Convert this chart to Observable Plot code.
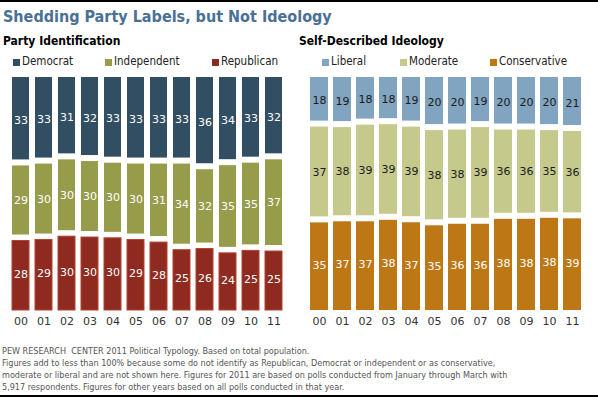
<!DOCTYPE html>
<html>
<head>
<meta charset="utf-8">
<script src="https://cdn.jsdelivr.net/npm/d3@7"></script>
<script src="https://cdn.jsdelivr.net/npm/@observablehq/plot@0.6"></script>
<style>
  html, body { margin: 0; padding: 0; background: #fff; }
  #wrap { position: relative; width: 598px; height: 399px; overflow: hidden; font-family: "DejaVu Sans", sans-serif; }
  .abs { position: absolute; white-space: nowrap; }
  #title { left: 3px; top: 7px; font-size: 16px; font-weight: bold; color: #4a7096; font-family: "DejaVu Sans Condensed", "DejaVu Sans", sans-serif; }
  .sub { top: 34px; font-size: 12px; font-weight: bold; color: #000; font-family: "DejaVu Sans Condensed", "DejaVu Sans", sans-serif; }
  .leg { top: 54px; font-size: 11.5px; color: #222; font-family: "DejaVu Sans Condensed", "DejaVu Sans", sans-serif; }
  .sw { position: absolute; width: 7px; height: 7px; top: 59px; }
  #foot { left: 2px; top: 345px; font-size: 9px; line-height: 12px; color: #555; font-family: "DejaVu Sans Condensed", "DejaVu Sans", sans-serif; }
  .rule { position: absolute; left: 0; width: 598px; height: 2px; background: #000; }
  .chart { position: absolute; top: 70px; }
</style>
</head>
<body>
<div id="wrap">
  <div class="rule" style="top:0"></div>
  <div id="title" class="abs">Shedding Party Labels, but Not Ideology</div>
  <div class="abs sub" style="left:3px">Party Identification</div>
  <div class="abs sub" style="left:299px">Self-Described Ideology</div>
  <div id="legends"></div>
  <div id="c1" class="chart" style="left:0px"></div>
  <div id="c2" class="chart" style="left:298px"></div>
  <div id="foot" class="abs">PEW RESEARCH&nbsp; CENTER 2011 Political Typology. Based on total population.<br>Figures add to less than 100% because some do not identify as Republican, Democrat or independent or as conservative,<br>moderate or liberal and are not shown here. Figures for 2011 are based on polls conducted from January through March with<br>5,917 respondents. Figures for other years based on all polls conducted in that year.</div>
  <div class="rule" style="top:395px"></div>
</div>
<script>
// ---- data ----
const years = ["00","01","02","03","04","05","06","07","08","09","10","11"];

const partySeries = ["Democrat", "Independent", "Republican"];
const democrat    = [33,33,31,32,33,33,33,33,36,34,33,32];
const independent = [29,30,30,30,30,30,31,34,32,35,35,37];
const republican  = [28,29,30,30,30,29,28,25,26,24,25,25];

const ideologySeries = ["Liberal", "Moderate", "Conservative"];
const liberal      = [18,19,18,18,19,20,20,19,20,20,20,21];
const moderate     = [37,38,39,39,39,38,38,39,36,36,35,36];
const conservative = [35,37,37,38,37,35,36,36,38,38,38,39];

const partyColors    = ["#314e62", "#979c4a", "#8e2a1f"];
const ideologyColors = ["#81a5c0", "#c5ca8c", "#bd7815"];

function longForm(series, arrays) {
  const rows = [];
  series.forEach((s, k) => years.forEach((y, i) => rows.push({year: y, series: s, value: arrays[k][i]})));
  return rows;
}
const partyRows = longForm(partySeries, [democrat, independent, republican]);
const ideologyRows = longForm(ideologySeries, [liberal, moderate, conservative]);

// ---- legends ----
const legendSpec = [
  [partySeries, partyColors, [13, 105, 212]],
  [ideologySeries, ideologyColors, [322, 400, 490]]
];
const legEl = document.getElementById("legends");
legendSpec.forEach(([names, cols, xs]) => names.forEach((n, i) => {
  const sw = document.createElement("div");
  sw.className = "sw"; sw.style.left = xs[i] + "px"; sw.style.background = cols[i];
  legEl.appendChild(sw);
  const t = document.createElement("div");
  t.className = "abs leg"; t.style.left = (xs[i] + 9) + "px"; t.textContent = n;
  legEl.appendChild(t);
}));

// ---- charts ----
const GAP = 3;
function panel(rows, series, colors, darkText, padding, width, marginRight, strokeFor) {
  const order = series.slice().reverse(); // bottom first
  const top = series[0], bottom = series[series.length - 1];
  const base = {x: "year", y: "value", z: "series", order, offset: "normalize"};
  const marks = [];
  series.forEach(s => {
    marks.push(Plot.barY(rows, Plot.filter(d => d.series === s, Plot.stackY({
      ...base, fill: "series",
      insetTop: s === top ? 0 : GAP,
      insetBottom: s === bottom ? 0 : GAP,
      ...(strokeFor[s] ? {stroke: strokeFor[s], strokeWidth: 1} : {})
    }))));
  });
  marks.push(Plot.text(rows, Plot.filter(d => darkText.includes(d.series), Plot.stackY({...base, text: "value", fill: "#1a1a1a", fontSize: 11}))));
  marks.push(Plot.text(rows, Plot.filter(d => !darkText.includes(d.series), Plot.stackY({...base, text: "value", fill: "white", fontSize: 11}))));
  return Plot.plot({
    width, height: 262,
    marginTop: 7, marginBottom: 22, marginLeft: 1, marginRight,
    style: {fontFamily: "DejaVu Sans, sans-serif", fontSize: "11px", color: "#333", background: "transparent"},
    x: {domain: years, padding, tickSize: 0, tickPadding: 7, label: null},
    y: {domain: [0, 1], axis: null},
    color: {domain: series, range: colors},
    marks
  });
}

document.getElementById("c1").appendChild(
  panel(partyRows, partySeries, partyColors, [], 0.25, 298, 4, {Republican: "#b5412f"}));
document.getElementById("c2").appendChild(
  panel(ideologyRows, ideologySeries, ideologyColors, ["Liberal", "Moderate"], 0.22, 300, 6, {}));
</script>
</body>
</html>
